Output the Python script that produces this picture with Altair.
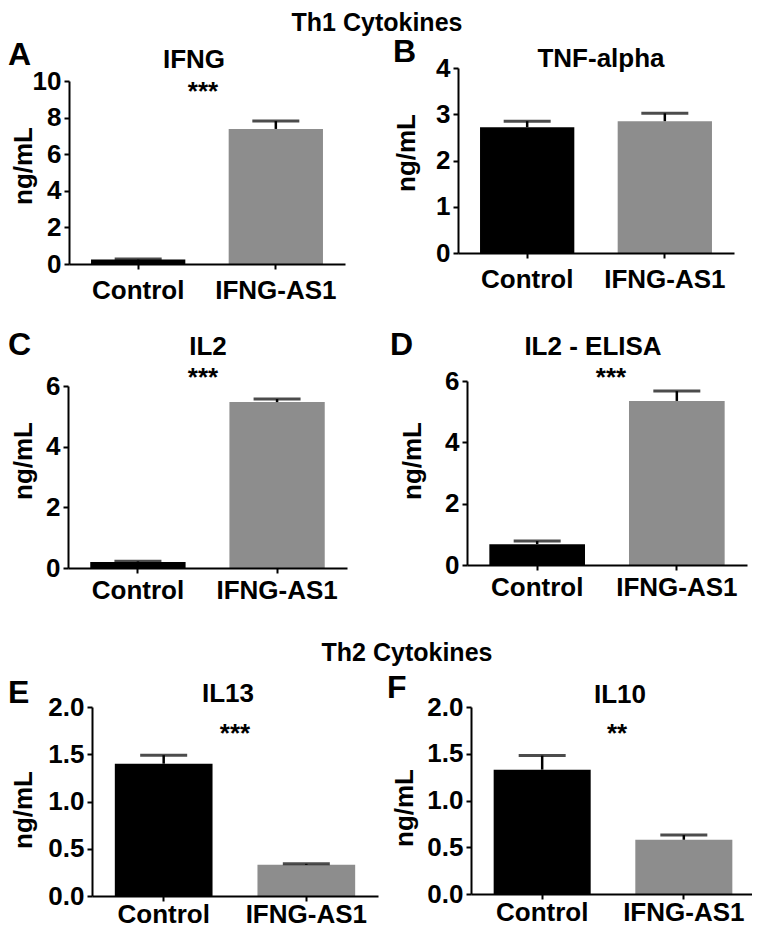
import altair as alt
import pandas as pd

FONT = "Liberation Sans"

groups = ["Control", "IFNG-AS1"]
panel_letters = ["A", "B", "C", "D", "E", "F"]
panel_titles = ["IFNG", "TNF-alpha", "IL2", "IL2 - ELISA", "IL13", "IL10"]
section_titles = ["Th1 Cytokines", "Th2 Cytokines"]
y_title = "ng/mL"

ifng_mean = [0.25, 7.38]
ifng_sem = [0.02, 0.43]
tnf_mean = [2.72, 2.85]
tnf_sem = [0.13, 0.17]
il2_mean = [0.20, 5.47]
il2_sem = [0.02, 0.10]
il2e_mean = [0.68, 5.35]
il2e_sem = [0.10, 0.32]
il13_mean = [1.40, 0.33]
il13_sem = [0.09, 0.01]
il10_mean = [1.33, 0.58]
il10_sem = [0.15, 0.05]

significance = ["***", "", "***", "***", "***", "**"]
y_max = [10, 4, 6, 6, 2, 2]
y_ticks = [[0, 2, 4, 6, 8, 10], [0, 1, 2, 3, 4], [0, 2, 4, 6], [0, 2, 4, 6],
           [0, 0.5, 1.0, 1.5, 2.0], [0, 0.5, 1.0, 1.5, 2.0]]
y_formats = ["d", "d", "d", "d", ".1f", ".1f"]

gray = "#8d8d8d"
dark_gray = "#6f6f6f"
bar_colors = [["#000000", gray], ["#000000", gray], ["#000000", gray],
              ["#000000", dark_gray], ["#000000", gray], ["#000000", gray]]

means = [ifng_mean, tnf_mean, il2_mean, il2e_mean, il13_mean, il10_mean]
sems = [ifng_sem, tnf_sem, il2_sem, il2e_sem, il13_sem, il10_sem]

# cell layout (pixels inside each grid cell)
W = [376, 368]
H = [308, 302, 303]
L = [
    dict(x0=61, x1=337, y0=256, y1=73, tx=186, ty=60, sx=195, sy=92, lx=0, ly=57, nx=24, ny=158, lp=8),
    dict(x0=74, x1=350, y0=245, y1=60, tx=217, ty=59, sx=0, sy=0, lx=9, ly=54, nx=31, ny=145, lp=8),
    dict(x0=60, x1=339, y0=252, y1=70, tx=200, ty=39, sx=195, sy=70, lx=0, ly=39, nx=24, ny=145, lp=4),
    dict(x0=83, x1=363, y0=249, y1=65, tx=209, ty=39, sx=227, sy=70, lx=6, ly=39, nx=37, ny=145, lp=4),
    dict(x0=84, x1=370, y0=278, y1=89, tx=220, ty=84, sx=227, sy=124, lx=0, ly=85, nx=24, ny=192, lp=0),
    dict(x0=87, x1=371, y0=276, y1=89, tx=236, ty=85, sx=233, sy=124, lx=3, ly=80, nx=29, ny=190, lp=0),
]


def txt(s, x, y, size, align="center", angle=0, weight="bold"):
    return alt.Chart(pd.DataFrame({"t": [s]})).mark_text(
        align=align, baseline="alphabetic", fontSize=size, fontWeight=weight,
        font=FONT, angle=angle, color="black"
    ).encode(text="t:N", x=alt.value(x), y=alt.value(y))


def panel(i):
    lay = L[i]
    w = W[i % 2]
    h = H[i // 2]
    mean = means[i]
    sem = sems[i]
    df = pd.DataFrame({
        "group": groups,
        "mean": mean,
        "upper": [m + s for m, s in zip(mean, sem)],
    })
    xs = alt.Scale(domain=groups, range=[lay["x0"], lay["x1"]],
                   paddingInner=0.315, paddingOuter=0.16)
    ys = alt.Scale(domain=[0, y_max[i]], range=[lay["y0"], lay["y1"]],
                   nice=False, zero=True)
    xaxis = alt.Axis(title=None, offset=-(h - lay["y0"]), labelAngle=0,
                     tickSize=5, labelPadding=lay["lp"], labelOverlap=False, zindex=1)
    yaxis = alt.Axis(title=None, offset=-lay["x0"], values=y_ticks[i],
                     format=y_formats[i], tickSize=5, labelPadding=3,
                     grid=False, zindex=1, labelOverlap=False)
    X = alt.X("group:N", scale=xs, sort=groups, axis=xaxis)
    base = alt.Chart(df)
    bars = base.mark_bar().encode(
        x=X,
        y=alt.Y("mean:Q", scale=ys, axis=yaxis),
        color=alt.Color("group:N", scale=alt.Scale(domain=groups, range=bar_colors[i]),
                        legend=None),
    )
    err = base.mark_rule(strokeWidth=2.5, color="black").encode(
        x=X, y=alt.Y("mean:Q", scale=ys, axis=yaxis), y2="upper:Q")
    cap = base.mark_tick(size=47, thickness=3, color="black").encode(
        x=X, y=alt.Y("upper:Q", scale=ys, axis=yaxis))
    layers = [bars, err, cap,
              txt(panel_titles[i], lay["tx"], lay["ty"], 26),
              txt(panel_letters[i], lay["lx"], lay["ly"], 32, align="left"),
              txt(y_title, lay["nx"], lay["ny"], 26, angle=270)]
    if significance[i]:
        layers.append(txt(significance[i], lay["sx"], lay["sy"], 26))
    if i == 0:
        layers.append(txt(section_titles[0], 369, 23, 25))
    if i == 4:
        layers.append(txt(section_titles[1], 399, 43, 25))
    return alt.layer(*layers).properties(width=w, height=h)


chart = alt.concat(*[panel(i) for i in range(6)], columns=2, spacing=0,
                   bounds="flush").properties(padding=0).configure_view(
    stroke=None
).configure_axis(
    domainColor="black", tickColor="black", domainWidth=2, tickWidth=2,
    labelFont=FONT, labelFontWeight="bold", labelFontSize=26, labelColor="black",
)

chart.save("out.html", embed_options={"renderer": "svg", "actions": False})
